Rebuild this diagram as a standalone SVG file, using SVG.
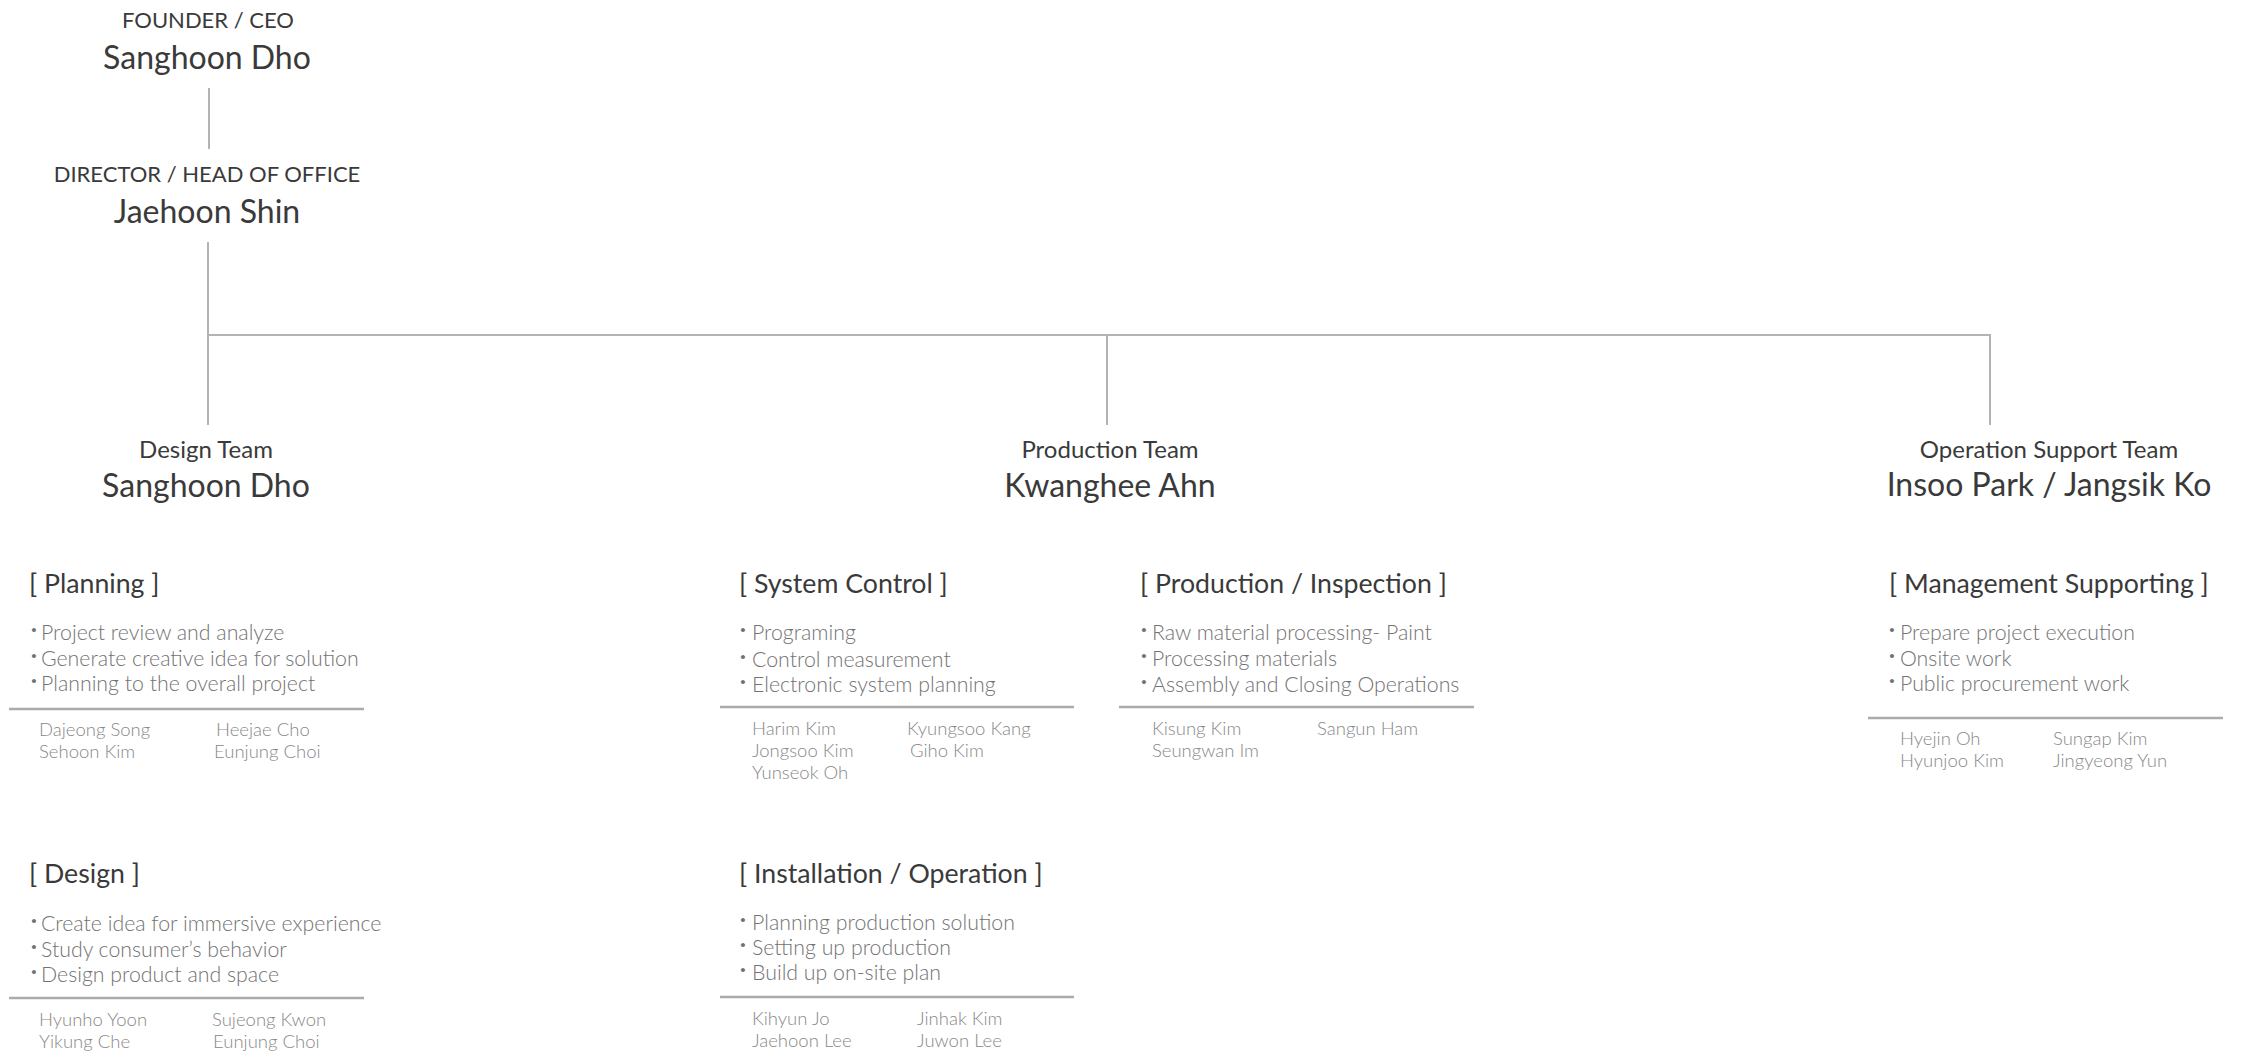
<svg xmlns="http://www.w3.org/2000/svg" width="2244" height="1053" viewBox="0 0 2244 1053">
<style>
text{font-family:Lato,"Open Sans","Liberation Sans",sans-serif}
.role{font-size:22px;fill:#3a3a3a;text-anchor:middle}
.lead{font-size:32px;fill:#3a3a3a;text-anchor:middle}
.team{font-size:24px;fill:#3a3a3a;text-anchor:middle}
.sec{font-size:26.7px;fill:#3a3a3a}
.bul{font-size:21.3px;fill:#727272;font-weight:300}
.dot{font-weight:700}
.nm{font-size:18.5px;fill:#888888;font-weight:300}
.ln{stroke:#b5b2b2;stroke-width:2;fill:none}
.dv{stroke:#acaaaa;stroke-width:2.5;fill:none}
</style>
<rect width="2244" height="1053" fill="#ffffff"/>
<g id="connectors">
<path class="ln" d="M209 88V149"/>
<path class="ln" d="M208 242V425"/>
<path class="ln" d="M208 335H1990V425"/>
<path class="ln" d="M1107 335V425"/>
</g>
<g id="ceo">
<text class="role" x="208" y="28">FOUNDER / CEO</text>
<text class="lead" x="207" y="69">Sanghoon Dho</text>
</g>
<g id="director">
<text class="role" x="207" y="182">DIRECTOR / HEAD OF OFFICE</text>
<text class="lead" x="207" y="223">Jaehoon Shin</text>
</g>
<g id="design-team">
<text class="team" x="206" y="458">Design Team</text>
<text class="lead" x="206" y="497">Sanghoon Dho</text>
</g>
<g id="production-team">
<text class="team" x="1110" y="458">Production Team</text>
<text class="lead" x="1110" y="497">Kwanghee Ahn</text>
</g>
<g id="operation-team">
<text class="team" x="2049" y="458">Operation Support Team</text>
<text class="lead" x="2049" y="496">Insoo Park / Jangsik Ko</text>
</g>
<g id="planning">
<text class="sec" x="29" y="593">[ Planning ]</text>
<text class="bul"><tspan class="dot" x="31" y="636">·</tspan><tspan x="41" y="640">Project review and analyze</tspan></text>
<text class="bul"><tspan class="dot" x="31" y="662">·</tspan><tspan x="41" y="666">Generate creative idea for solution</tspan></text>
<text class="bul"><tspan class="dot" x="31" y="687">·</tspan><tspan x="41" y="691">Planning to the overall project</tspan></text>
<path class="dv" d="M9 709H364"/>
<text class="nm" x="39" y="736">Dajeong Song</text>
<text class="nm" x="39" y="758">Sehoon Kim</text>
<text class="nm" x="216" y="736">Heejae Cho</text>
<text class="nm" x="214" y="758">Eunjung Choi</text>
</g>
<g id="design">
<text class="sec" x="29" y="883">[ Design ]</text>
<text class="bul"><tspan class="dot" x="31" y="927">·</tspan><tspan x="41" y="931">Create idea for immersive experience</tspan></text>
<text class="bul"><tspan class="dot" x="31" y="953">·</tspan><tspan x="41" y="957">Study consumer’s behavior</tspan></text>
<text class="bul"><tspan class="dot" x="31" y="978">·</tspan><tspan x="41" y="982">Design product and space</tspan></text>
<path class="dv" d="M9 998H364"/>
<text class="nm" x="39" y="1026">Hyunho Yoon</text>
<text class="nm" x="39" y="1048">Yikung Che</text>
<text class="nm" x="212" y="1026">Sujeong Kwon</text>
<text class="nm" x="213" y="1048">Eunjung Choi</text>
</g>
<g id="system-control">
<text class="sec" x="739" y="593">[ System Control ]</text>
<text class="bul"><tspan class="dot" x="740" y="636">·</tspan><tspan x="752" y="640">Programing</tspan></text>
<text class="bul"><tspan class="dot" x="740" y="663">·</tspan><tspan x="752" y="667">Control measurement</tspan></text>
<text class="bul"><tspan class="dot" x="740" y="688">·</tspan><tspan x="752" y="692">Electronic system planning</tspan></text>
<path class="dv" d="M720 707H1074"/>
<text class="nm" x="752" y="735">Harim Kim</text>
<text class="nm" x="752" y="757">Jongsoo Kim</text>
<text class="nm" x="752" y="779">Yunseok Oh</text>
<text class="nm" x="907" y="735">Kyungsoo Kang</text>
<text class="nm" x="910" y="757">Giho Kim</text>
</g>
<g id="production-inspection">
<text class="sec" x="1140" y="593">[ Production / Inspection ]</text>
<text class="bul"><tspan class="dot" x="1141" y="636">·</tspan><tspan x="1152" y="640">Raw material processing- Paint</tspan></text>
<text class="bul"><tspan class="dot" x="1141" y="662">·</tspan><tspan x="1152" y="666">Processing materials</tspan></text>
<text class="bul"><tspan class="dot" x="1141" y="688">·</tspan><tspan x="1152" y="692">Assembly and Closing Operations</tspan></text>
<path class="dv" d="M1119 707H1474"/>
<text class="nm" x="1152" y="735">Kisung Kim</text>
<text class="nm" x="1152" y="757">Seungwan Im</text>
<text class="nm" x="1317" y="735">Sangun Ham</text>
</g>
<g id="installation-operation">
<text class="sec" x="739" y="883">[ Installation / Operation ]</text>
<text class="bul"><tspan class="dot" x="740" y="926">·</tspan><tspan x="752" y="930">Planning production solution</tspan></text>
<text class="bul"><tspan class="dot" x="740" y="951">·</tspan><tspan x="752" y="955">Setting up production</tspan></text>
<text class="bul"><tspan class="dot" x="740" y="976">·</tspan><tspan x="752" y="980">Build up on-site plan</tspan></text>
<path class="dv" d="M720 997H1074"/>
<text class="nm" x="752" y="1025">Kihyun Jo</text>
<text class="nm" x="752" y="1047">Jaehoon Lee</text>
<text class="nm" x="917" y="1025">Jinhak Kim</text>
<text class="nm" x="917" y="1047">Juwon Lee</text>
</g>
<g id="management-supporting">
<text class="sec" x="1889" y="593">[ Management Supporting ]</text>
<text class="bul"><tspan class="dot" x="1889" y="636">·</tspan><tspan x="1900" y="640">Prepare project execution</tspan></text>
<text class="bul"><tspan class="dot" x="1889" y="662">·</tspan><tspan x="1900" y="666">Onsite work</tspan></text>
<text class="bul"><tspan class="dot" x="1889" y="687">·</tspan><tspan x="1900" y="691">Public procurement work</tspan></text>
<path class="dv" d="M1868 718H2223"/>
<text class="nm" x="1900" y="745">Hyejin Oh</text>
<text class="nm" x="1900" y="767">Hyunjoo Kim</text>
<text class="nm" x="2053" y="745">Sungap Kim</text>
<text class="nm" x="2053" y="767">Jingyeong Yun</text>
</g>
</svg>
